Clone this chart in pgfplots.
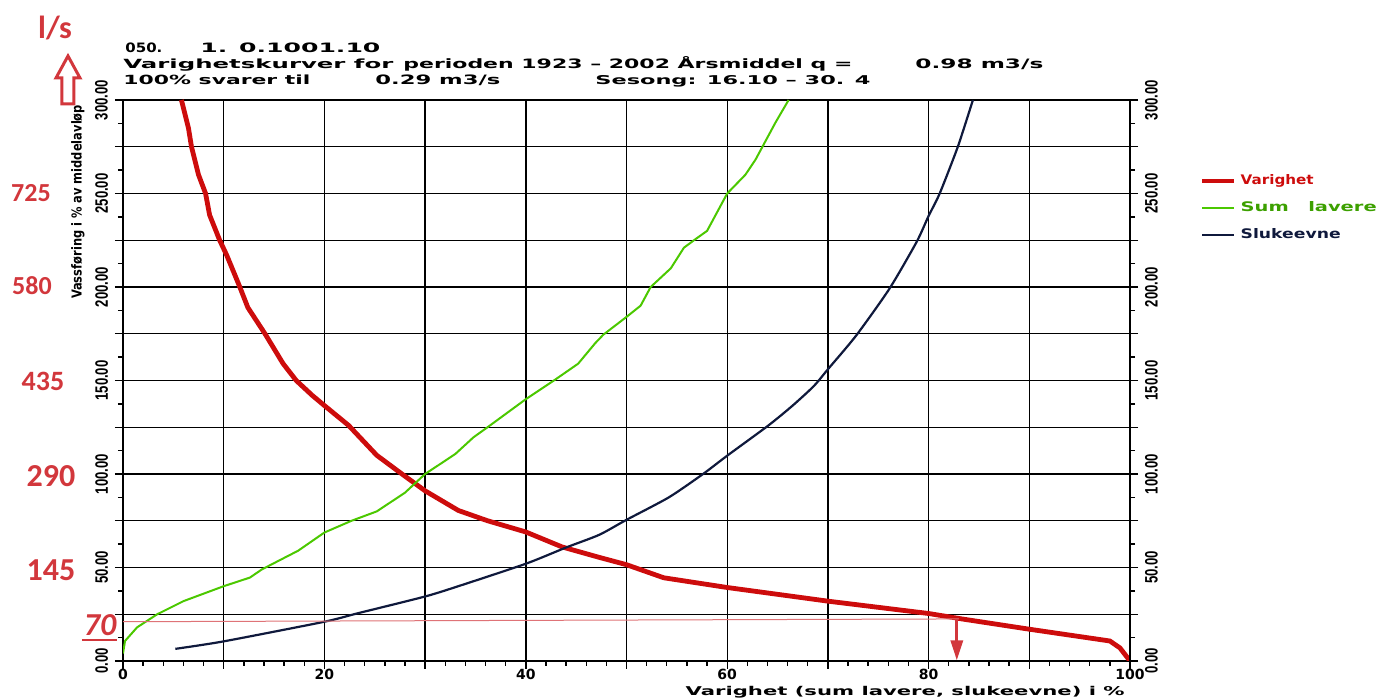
\documentclass[border=0pt]{standalone}
\usepackage{pgfplots}
\pgfplotsset{compat=1.18}
\usepackage{fontspec}
\setmainfont{DejaVu Sans}
\newfontfamily\narrowf{Liberation Sans}
\newfontfamily\calf{Carlito}
\usetikzlibrary{arrows.meta}
\definecolor{vred}{RGB}{205,12,12}
\definecolor{vgreen}{RGB}{75,200,0}
\definecolor{vnavy}{RGB}{15,25,60}
\definecolor{annot}{RGB}{210,55,60}
\newcommand\hdr[3]{\resizebox{#1}{#2}{\bfseries #3}}
\newcommand\yl[1]{\scalebox{0.73}[1]{#1}}
\begin{document}
\begin{tikzpicture}[x=1pt,y=1pt]
\begin{axis}[
  at={(0,0)}, anchor=south west, scale only axis,
  width=503.5pt, height=280.5pt,
  xmin=0, xmax=100, ymin=0, ymax=300,
  xtick={0,10,...,100}, xticklabels={0,,20,,40,,60,,80,,100},
  minor x tick num=4,
  ytick={0,25,...,300},
  yticklabels={\yl{0.00},,\yl{50.00},,\yl{100.00},,\yl{150.00},,\yl{200.00},,\yl{250.00},,\yl{300.00}},
  minor y tick num=1,
  grid=major, major grid style={black, line width=0.7pt},
  tick align=outside, xtick pos=bottom, ytick pos=left,
  major tick length=4pt, minor tick length=2.5pt,
  every tick/.style={black, line width=0.7pt},
  axis line style={line width=1pt},
  yticklabel style={rotate=90, anchor=south, font=\narrowf\bfseries\fontsize{9}{9}\selectfont},
  xticklabel style={anchor=north, yshift=3.5pt, font=\bfseries\fontsize{7}{7}\selectfont},
  legend style={at={(rel axis cs:1.069,0.875)}, anchor=north west, draw=none, fill=none,
    inner sep=0pt, row sep=3pt, font=\fontsize{6}{6}\selectfont},
  legend cell align=left,
  legend image code/.code={\draw[#1] (0pt,0pt) -- (16pt,0pt);},
]
\addplot[vred, line width=2.4pt] coordinates {
(5.8,300) (6.5,285) (6.8,275) (7.5,260) (8.2,250) (8.6,238.5) (9.6,225) (10.3,217)
(11.6,200) (12.4,189) (14.1,175) (15,167) (15.9,159) (17.2,150) (18.8,142) (20,136.6)
(22.4,126) (25.2,110) (27.7,100) (30,91) (33.3,80.5) (36.2,75) (40,69) (43.6,61)
(47.3,55.4) (50,51.5) (53.7,44.5) (60,39.3) (70,32) (80,25.4) (83.3,22.5) (90,17)
(98,10.7) (99,7) (100,0)};
\addlegendentry{\textcolor{vred}{\hdr{36.5pt}{5pt}{Varighet}}}
\addplot[vgreen, line width=1pt] coordinates {
(0,4) (0.2,10.7) (1.4,18) (3.4,25) (6,32) (10,40) (12.6,44.6) (13.8,49) (17.4,59)
(20,68.7) (22.7,75) (25.2,80) (28,90) (30,100) (33,110.7) (34.8,119.6) (36.2,125)
(40,140) (42.9,150.4) (45.2,159) (46.9,170) (47.7,174.5) (50,184) (51.4,190)
(52.4,200) (54.4,210) (55.7,221) (56.7,225) (58,230) (58.8,238) (60,250) (61.8,260)
(62.8,268) (63.5,275) (64.8,288) (66.1,300)};
\addlegendentry{\textcolor{vgreen!80!black}{\hdr{68pt}{5pt}{Sum\quad lavere}}}
\addplot[vnavy, line width=1.1pt, smooth, tension=0.4] coordinates {
(5.2,6.5) (10,10.5) (20,21) (23.3,25.5) (30,34.5) (33.3,40) (40,52) (44,60.7) (47.3,67.5)
(50,75.5) (54.2,87.5) (57.6,100) (60,109.8) (64.1,126) (66.5,136.6) (68.6,147)
(70,156) (72.8,174) (76.1,199) (78.8,224) (80,238) (81.1,250) (82.9,275) (84.4,300)};
\addlegendentry{\textcolor{vnavy}{\hdr{50pt}{5pt}{Slukeevne}}}
\addplot[annot!70, line width=0.5pt, forget plot] coordinates {(0,21) (83,22.5)};
\addplot[annot, line width=1.6pt, -{Triangle[width=6pt,length=10pt]}, forget plot] coordinates {(82.8,22.5) (82.8,0.3)};
\end{axis}
\begin{axis}[
  at={(0,0)}, anchor=south west, scale only axis,
  width=503.5pt, height=280.5pt,
  xmin=0, xmax=100, ymin=0, ymax=300,
  hide x axis, axis y line*=right,
  ytick={0,25,...,300},
  yticklabels={\yl{0.00},,\yl{50.00},,\yl{100.00},,\yl{150.00},,\yl{200.00},,\yl{250.00},,\yl{300.00}},
  minor y tick num=1,
  tick align=outside,
  major tick length=4pt, minor tick length=2.5pt,
  every tick/.style={black, line width=0.7pt},
  axis line style={line width=1pt},
  yticklabel style={rotate=90, anchor=north, font=\narrowf\bfseries\fontsize{9}{9}\selectfont},
]
\end{axis}
% x label
\node[anchor=base east, inner sep=0pt] at (501,-17) {\hdr{219.5pt}{4.6pt}{Varighet (sum lavere, slukeevne) i \%}};
% header
\node[anchor=base west, inner sep=0pt] at (1,304.25) {\hdr{18.5pt}{4.8pt}{050.}};
\node[anchor=base west, inner sep=0pt] at (38.5,304.25) {\hdr{90pt}{4.8pt}{1. 0.1001.10}};
\node[anchor=base west, inner sep=0pt] at (0,296.25) {\hdr{135pt}{4.8pt}{Varighetskurver for}};
\node[anchor=base west, inner sep=0pt] at (140,296.25) {\hdr{224.5pt}{6pt}{perioden 1923 -- 2002 Årsmiddel q =}};
\node[anchor=base west, inner sep=0pt] at (396,296.25) {\hdr{64pt}{4.8pt}{0.98 m3/s}};
\node[anchor=base west, inner sep=0pt] at (0,288.25) {\hdr{93.5pt}{4.8pt}{100\% svarer til}};
\node[anchor=base west, inner sep=0pt] at (126,288.25) {\hdr{62.5pt}{4.8pt}{0.29 m3/s}};
\node[anchor=base west, inner sep=0pt] at (236,288.25) {\hdr{137.5pt}{4.5pt}{Sesong: 16.10 -- 30. 4}};
% y label
\node[rotate=90, inner sep=0pt] at (-22.5,229.5) {\hdr{97pt}{5.2pt}{Vassføring i \% av middelavløp}};
% red annotations
\node[text=annot, font=\calf\bfseries\fontsize{16}{16}\selectfont, inner sep=0pt] at (-34,316.5) {l/s};
\draw[annot, line width=1.5pt, line join=miter] (-27.5,302.5) -- (-21.5,291.5) -- (-24.5,291.5) -- (-24.5,278.5)
  -- (-30.5,278.5) -- (-30.5,291.5) -- (-33.5,291.5) -- cycle;
\node[text=annot, font=\calf\bfseries\fontsize{13}{13}\selectfont, inner sep=0pt] at (-46,234) {725};
\node[text=annot, font=\calf\bfseries\fontsize{13}{13}\selectfont, inner sep=0pt] at (-45.5,187.5) {580};
\node[text=annot, font=\calf\bfseries\fontsize{14}{14}\selectfont, inner sep=0pt] at (-40,140) {435};
\node[text=annot, font=\calf\bfseries\fontsize{16}{16}\selectfont, inner sep=0pt] at (-36,92.5) {290};
\node[text=annot, font=\calf\bfseries\fontsize{16}{16}\selectfont, inner sep=0pt] at (-36,45.5) {145};
\node[text=annot, font=\calf\bfseries\itshape\fontsize{16}{16}\selectfont, inner sep=0pt] at (-11.5,18) {70};
\draw[annot, line width=0.8pt] (-20.5,10.5) -- (-3,10.5);
\pgfresetboundingbox
\useasboundingbox (-61.5,-19.5) rectangle (628,330.5);
\end{tikzpicture}
\end{document}
